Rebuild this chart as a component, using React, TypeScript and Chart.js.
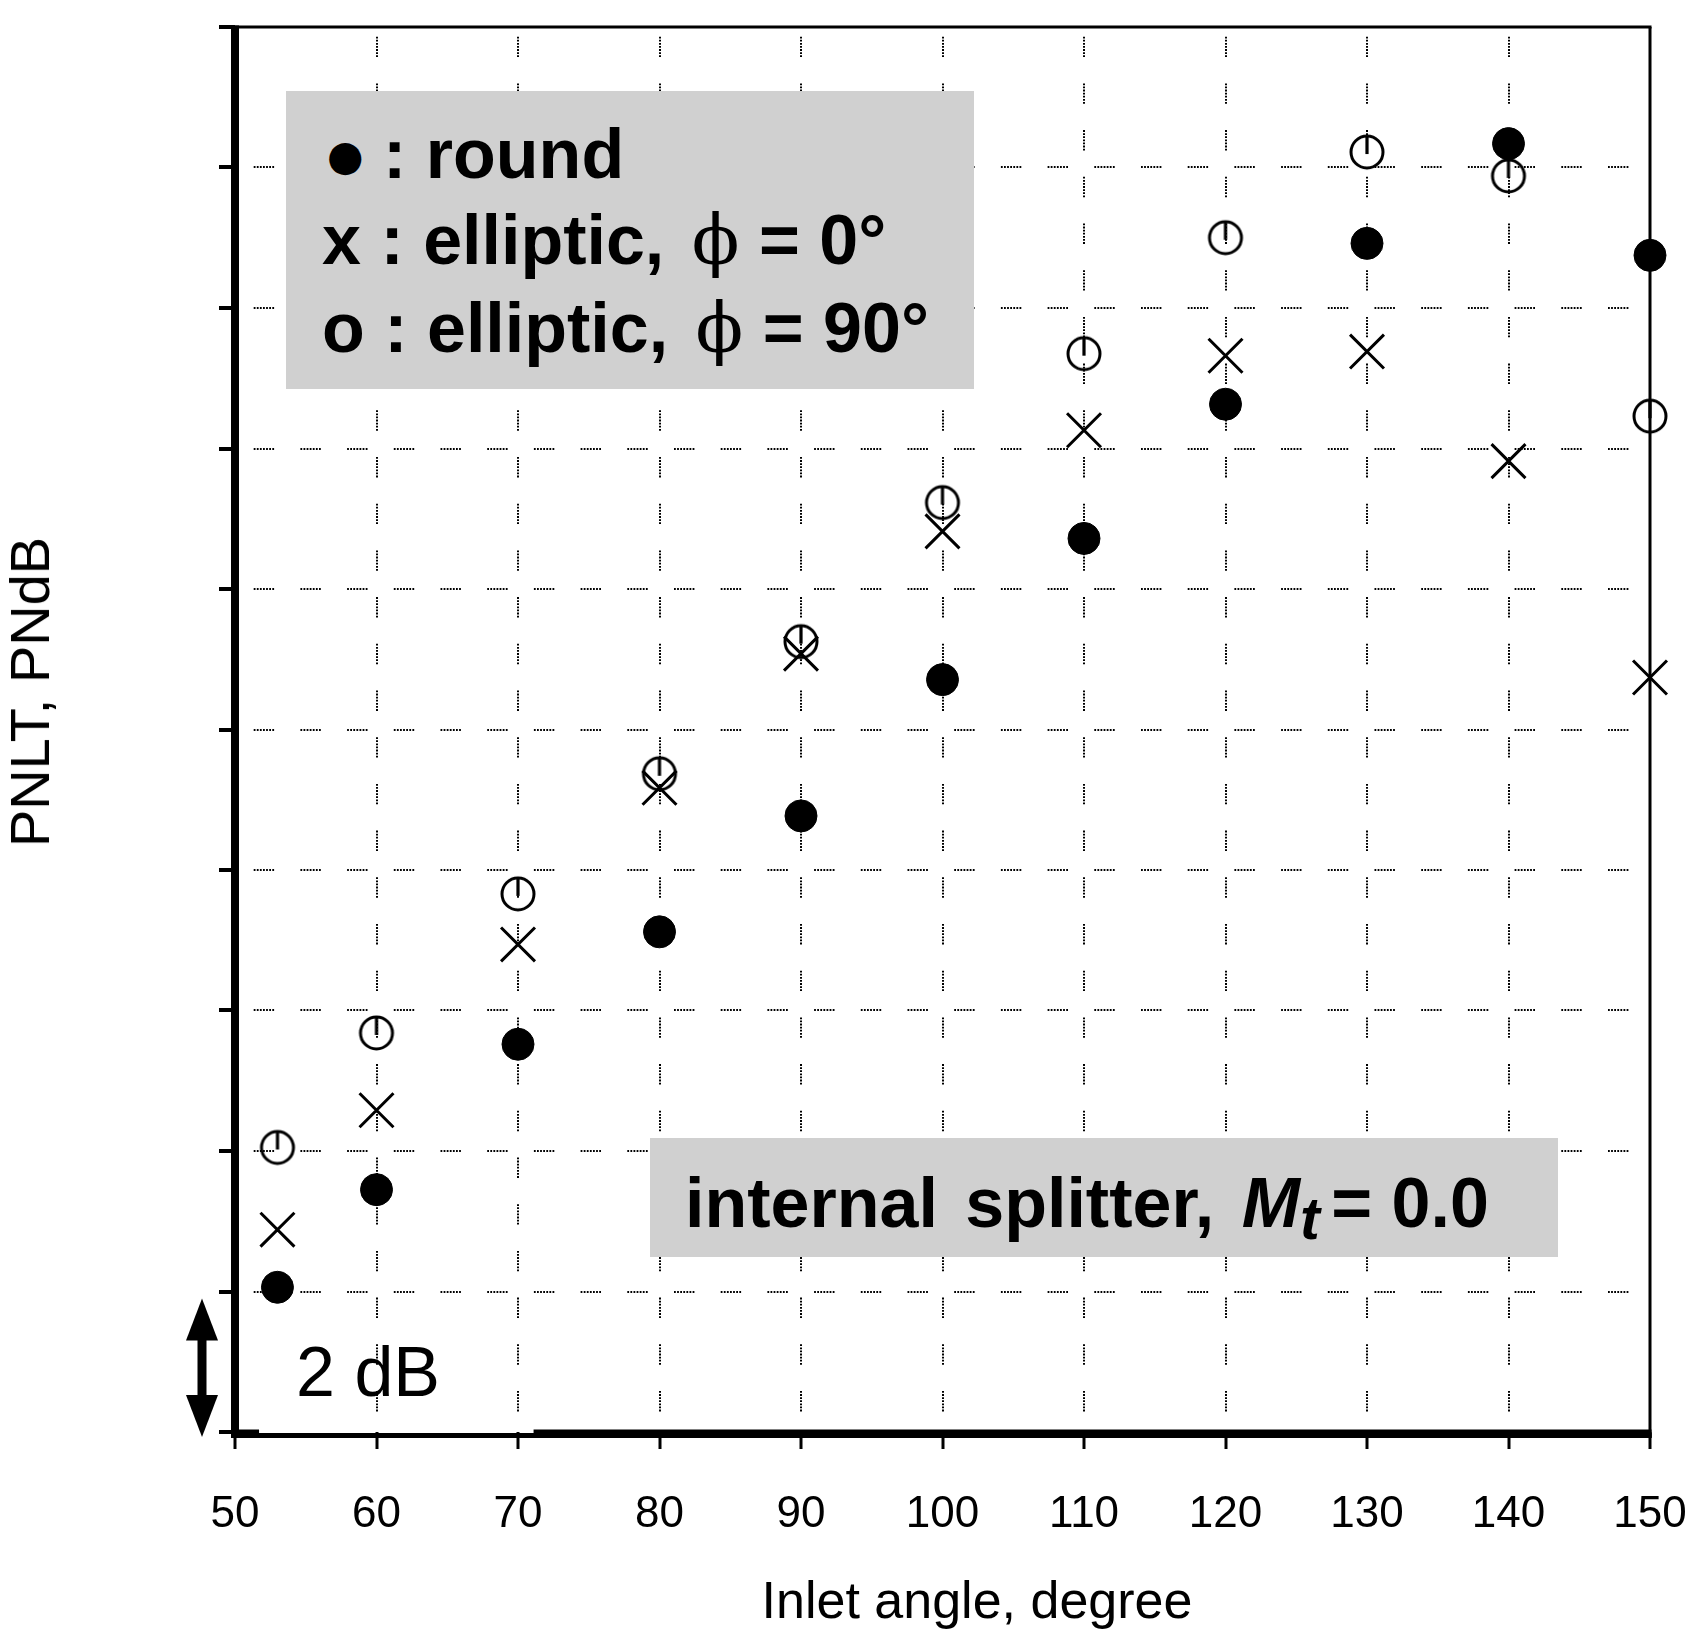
import { useEffect, useRef } from "react";
import { Chart, registerables } from "chart.js";
Chart.register(...registerables);

// inlet angle (deg) of each microphone
const angles = [53, 60, 70, 80, 90, 100, 110, 120, 130, 140, 150];
// PNLT, dB above the bottom of the frame
const roundPNLT = [2.06, 3.45, 5.52, 7.12, 8.77, 10.71, 12.72, 14.63, 16.92, 18.34, 16.75];
const elliptic0PNLT = [2.88, 4.58, 6.94, 9.17, 11.08, 12.82, 14.26, 15.32, 15.38, 13.82, 10.74];
const elliptic90PNLT = [4.05, 5.68, 7.66, 9.37, 11.25, 13.23, 15.35, 17.0, 18.22, 17.88, 14.46];

const angleMin = 50;
const angleMax = 150;
const angleStep = 10;
const dbMin = 0;
const dbMax = 20;
const dbStep = 2;

const FONT = "'Liberation Sans', Arial, sans-serif";
const W = 1704;
const H = 1634;

// dotted dashes: 7 dots then a gap
const gridDash = [1.8, 1.3, 1.8, 1.3, 1.8, 1.3, 1.8, 1.3, 1.8, 1.3, 1.8, 1.3, 1.8, 26.3];

const toPoints = (ys: number[]) => angles.map((x, i) => ({ x, y: ys[i] }));

// the frame is drawn by the plugin, so skip dotted lines on the edges
const innerGrid = (lo: number, hi: number) => (c: any) =>
  c.tick && (c.tick.value === lo || c.tick.value === hi) ? "rgba(0,0,0,0)" : "#000";

function openCircleMarker() {
  const c = document.createElement("canvas");
  c.width = 44;
  c.height = 44;
  const g = c.getContext("2d")!;
  g.strokeStyle = "#000";
  g.lineWidth = 3;
  g.beginPath();
  g.arc(22, 22, 16, 0, Math.PI * 2);
  g.stroke();
  g.lineWidth = 3.2;
  g.beginPath();
  g.moveTo(22, 5);
  g.lineTo(22, 24);
  g.stroke();
  return c;
}

const framePlugin = {
  id: "frame",
  beforeDatasetsDraw(chart: any) {
    const { ctx, chartArea, scales } = chart;
    const { left, right, top, bottom } = chartArea;
    const seg = (x1: number, y1: number, x2: number, y2: number, w: number) => {
      ctx.lineWidth = w;
      ctx.beginPath();
      ctx.moveTo(x1, y1);
      ctx.lineTo(x2, y2);
      ctx.stroke();
    };
    ctx.save();
    ctx.strokeStyle = "#000";
    ctx.lineCap = "butt";
    // thin top and right edges
    seg(left, top, right + 1.5, top, 3);
    seg(right, top, right, bottom + 6, 3);
    // heavy left axis
    seg(left, top - 1.5, left, bottom + 6, 8);
    // bottom axis, thinner over the first stretch as in the original
    seg(left, bottom + 3.5, right + 1.5, bottom + 3.5, 5);
    seg(left - 4, bottom + 1.5, scales.x.getPixelForValue(51.7), bottom + 1.5, 8);
    seg(scales.x.getPixelForValue(71.1), bottom + 1.5, right + 1.5, bottom + 1.5, 8);

    // 2 dB scale arrow left of the axis
    const ax = left - 33;
    const yTop = scales.y.getPixelForValue(dbMin + dbStep) + 7;
    const yBot = bottom + 5;
    const hw = 16;
    const hh = 42;
    ctx.fillStyle = "#000";
    seg(ax, yTop + hh - 2, ax, yBot - hh + 2, 9);
    ctx.beginPath();
    ctx.moveTo(ax, yTop);
    ctx.lineTo(ax + hw, yTop + hh);
    ctx.lineTo(ax - hw, yTop + hh);
    ctx.closePath();
    ctx.fill();
    ctx.beginPath();
    ctx.moveTo(ax, yBot);
    ctx.lineTo(ax + hw, yBot - hh);
    ctx.lineTo(ax - hw, yBot - hh);
    ctx.closePath();
    ctx.fill();
    ctx.restore();
  },
};

function PnltChart() {
  const canvasRef = useRef<HTMLCanvasElement>(null);

  useEffect(() => {
    if (!canvasRef.current) return;
    const ctx = canvasRef.current.getContext("2d");
    if (!ctx) return;

    const chart = new Chart(ctx, {
      type: "scatter",
      data: {
        datasets: [
          {
            label: "round",
            data: toPoints(roundPNLT),
            pointStyle: "circle",
            pointRadius: 16,
            backgroundColor: "#000",
            borderColor: "#000",
            borderWidth: 1,
            clip: false,
          },
          {
            label: "elliptic, φ = 0°",
            data: toPoints(elliptic0PNLT),
            pointStyle: "crossRot",
            pointRadius: 24,
            borderColor: "#000",
            borderWidth: 3,
            clip: false,
          },
          {
            label: "elliptic, φ = 90°",
            data: toPoints(elliptic90PNLT),
            pointStyle: openCircleMarker(),
            pointRadius: 18,
            borderColor: "#000",
            clip: false,
          },
        ],
      },
      options: {
        animation: false,
        responsive: false,
        devicePixelRatio: 1,
        layout: { padding: { top: 21, right: 54, left: 0, bottom: 0 } },
        plugins: {
          legend: { display: false },
          tooltip: { enabled: false },
        },
        scales: {
          x: {
            type: "linear",
            min: angleMin,
            max: angleMax,
            ticks: {
              stepSize: angleStep,
              color: "#000",
              font: { family: FONT, size: 44 },
              padding: 39,
              maxRotation: 0,
              autoSkip: false,
            },
            grid: {
              color: innerGrid(angleMin, angleMax),
              lineWidth: 2,
              tickLength: 17,
              tickWidth: 3,
              tickColor: "#000",
              tickBorderDash: [],
            },
            border: { display: false, dash: gridDash, dashOffset: 37 },
            afterFit: (s: any) => {
              s.height = 202;
              s.paddingLeft = 0;
              s.paddingRight = 0;
            },
          },
          y: {
            type: "linear",
            min: dbMin,
            max: dbMax,
            ticks: { stepSize: dbStep, display: false },
            grid: {
              color: innerGrid(dbMin, dbMax),
              lineWidth: 2,
              tickLength: 16,
              tickWidth: 4,
              tickColor: "#000",
              tickBorderDash: [],
            },
            border: { display: false, dash: gridDash, dashOffset: 28 },
            afterFit: (s: any) => {
              s.width = 235;
            },
          },
        },
      },
      plugins: [framePlugin],
    });

    return () => chart.destroy();
  }, []);

  return <canvas ref={canvasRef} width={W} height={H} style={{ width: W, height: H, display: "block" }} />;
}

const boxStyle: React.CSSProperties = {
  position: "absolute",
  background: "rgb(208,208,208)",
};

const lineStyle: React.CSSProperties = {
  position: "absolute",
  fontFamily: FONT,
  fontWeight: "bold",
  fontSize: 70,
  lineHeight: "70px",
  whiteSpace: "nowrap",
  color: "#000",
};

const phi: React.CSSProperties = {
  fontFamily: "'DejaVu Serif', 'Liberation Serif', serif",
  fontWeight: "normal",
  fontSize: 70,
  marginLeft: 8,
};

export default function App() {
  return (
    <div style={{ position: "absolute", left: 0, top: 0, width: W, height: H, background: "#fff" }}>
      <PnltChart />

      {/* symbol key */}
      <div style={{ ...boxStyle, left: 286, top: 91, width: 688, height: 298 }} />
      <div style={{ ...lineStyle, left: 327, top: 119 }}>
        <span style={{ fontFamily: "'DejaVu Sans', sans-serif", fontSize: 42, position: "relative", top: -8 }}>●</span> : round
      </div>
      <div style={{ ...lineStyle, left: 322, top: 205 }}>
        x : elliptic, <span style={phi}>ϕ</span> = 0°
      </div>
      <div style={{ ...lineStyle, left: 322, top: 293 }}>
        o : elliptic, <span style={phi}>ϕ</span> = 90°
      </div>

      {/* configuration label */}
      <div style={{ ...boxStyle, left: 650, top: 1138, width: 908, height: 119 }} />
      <div style={{ ...lineStyle, left: 685, top: 1168 }}>
        <span style={{ wordSpacing: 8 }}>internal splitter, </span>
        <i>
          M<span style={{ fontSize: "0.85em", position: "relative", top: "0.2em" }}>t</span>
        </i>
        <span style={{ marginLeft: -8 }}> = 0.0</span>
      </div>

      {/* scale bar label */}
      <div
        style={{
          position: "absolute",
          left: 296,
          top: 1337,
          fontFamily: FONT,
          fontSize: 70,
          lineHeight: "70px",
          whiteSpace: "nowrap",
        }}
      >
        2 dB
      </div>

      {/* axis titles */}
      <div
        style={{
          position: "absolute",
          left: 977,
          top: 1574,
          transform: "translateX(-50%)",
          fontFamily: FONT,
          fontSize: 52,
          lineHeight: "52px",
          whiteSpace: "nowrap",
        }}
      >
        Inlet angle, degree
      </div>
      <div
        style={{
          position: "absolute",
          left: 30,
          top: 692,
          transform: "translate(-50%, -50%) rotate(-90deg)",
          fontFamily: FONT,
          fontSize: 56,
          lineHeight: "56px",
          whiteSpace: "nowrap",
        }}
      >
        PNLT, PNdB
      </div>
    </div>
  );
}
